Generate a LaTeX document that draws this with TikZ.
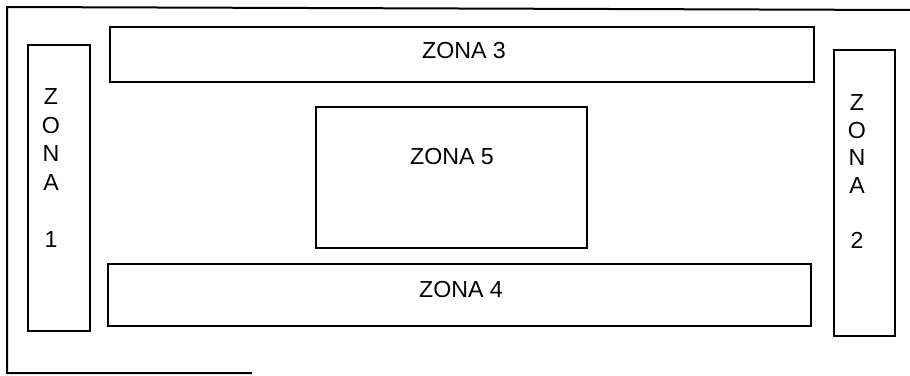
\documentclass[tikz,border=0pt]{standalone}
\usepackage{fontspec}
\setmainfont{Liberation Sans}
\usetikzlibrary{fit}

\begin{document}
\begin{tikzpicture}[x=0.5pt,y=-0.5pt,line width=1pt,
  zone/.style={draw,rectangle,inner sep=0pt},
  every node/.style={font=\fontsize{11.6}{13}\selectfont}]
  \useasboundingbox (0,0) rectangle (910,375);
  % outer frame, open on the right
  \coordinate (frame-br) at (252,373);
  \coordinate (frame-tr) at (910,10);
  \draw (frame-br) -- (7,373) -- (7,7) -- (frame-tr);
  % zones
  \node[zone,fit={(28,45) (90,331)}] (zone1) {};
  \node[zone,fit={(834,50) (895,336)}] (zone2) {};
  \node[zone,fit={(110,27) (814,82)}] (zone3) {};
  \node[zone,fit={(108,264) (811,326)}] (zone4) {};
  \node[zone,fit={(316,107) (587,248)}] (zone5) {};
  \node (lbl3) at (464,50.5) {ZONA 3};
  \node (lbl4) at (461,290) {ZONA 4};
  \node (lbl5) at (452,157) {ZONA 5};
  % vertical labels
  \foreach \l [count=\i] in {Z,O,N,A} {
    \node (lbl1-\i) at (51,97+28.5*\i-28.5) {\l};
    \node (lbl2-\i) at (857,103+27.5*\i-27.5) {\l};
  }
  \node (lbl1-n) at (51,240) {1};
  \node (lbl2-n) at (857,240) {2};
\end{tikzpicture}
\end{document}
